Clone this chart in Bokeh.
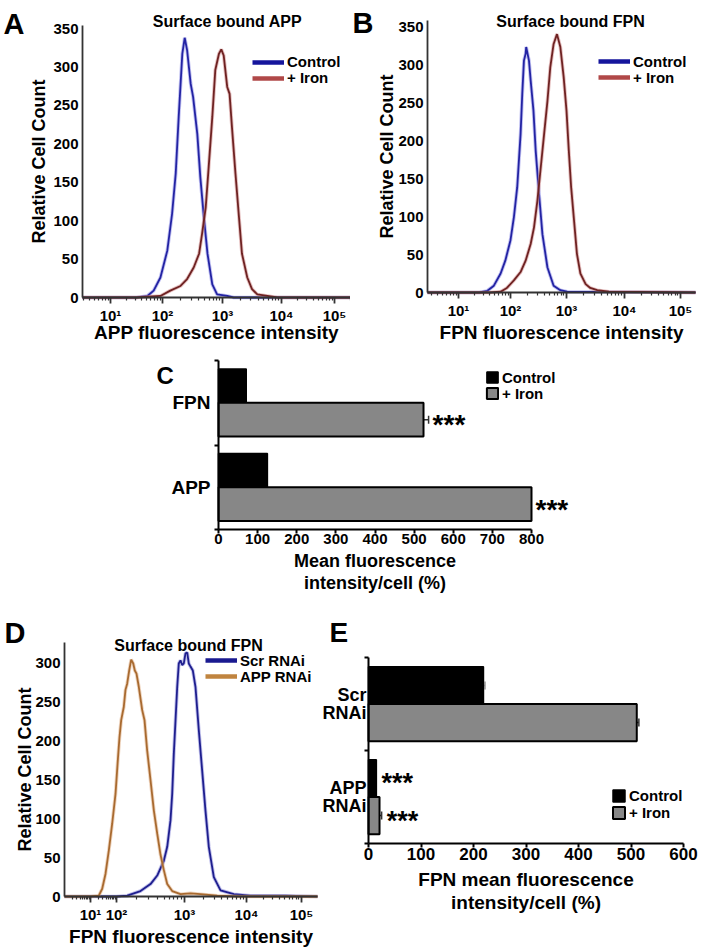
import numpy as np
from bokeh.plotting import figure
from bokeh.layouts import column, row
from bokeh.models import (Range1d, FixedTicker, Legend, LegendItem, Label,
                          Whisker, ColumnDataSource, TeeHead, CDSView, IndexFilter)
from bokeh.embed import file_html
from bokeh.resources import INLINE

FONT = "Liberation Sans"

# ---------------- data ----------------
DECADES = [1, 2, 3, 4, 5]
DECADE_LABELS = ["10\u00b9", "10\u00b2", "10\u00b3", "10\u2074", "10\u2075"]
HIST_Y_TICKS_AB = [0, 50, 100, 150, 200, 250, 300, 350]
HIST_Y_TICKS_D = [0, 50, 100, 150, 200, 250, 300]

# Panel A: surface bound APP (x = log10 fluorescence, y = relative cell count)
a_ctrl_x = [0.3, 1.0, 1.5, 1.71, 1.83, 1.96, 2.08, 2.16, 2.22, 2.27, 2.33, 2.37, 2.41,
            2.47, 2.51, 2.58, 2.63, 2.69, 2.75, 2.83, 2.91, 3.08, 3.19, 4.0, 5.5]
a_ctrl_y = [0, 0, 0, 2, 9, 26, 61, 109, 161, 235, 317, 338, 322,
            278, 261, 213, 157, 104, 57, 17, 4, 2, 0, 0, 0]
a_iron_x = [0.3, 1.5, 1.96, 2.13, 2.30, 2.41, 2.52, 2.61, 2.66, 2.72, 2.77, 2.83, 2.88,
            2.94, 2.98, 3.02, 3.08, 3.12, 3.16, 3.22, 3.28, 3.33, 3.42, 3.50, 3.59,
            3.76, 3.93, 5.5]
a_iron_y = [0, 0, 2, 9, 15, 24, 39, 57, 83, 117, 170, 235, 296,
            317, 323, 315, 274, 265, 222, 161, 104, 57, 26, 11, 4,
            2, 0, 0]

# Panel B: surface bound FPN
b_ctrl_x = [0.3, 1.4, 1.55, 1.68, 1.81, 1.90, 2.0, 2.06, 2.12, 2.18, 2.21, 2.24, 2.27,
            2.28, 2.33, 2.36, 2.41, 2.45, 2.51, 2.57, 2.66, 2.77, 2.89, 3.01, 5.5]
b_ctrl_y = [0, 0, 2, 9, 25, 42, 69, 99, 139, 209, 262, 306, 315,
            324, 306, 280, 240, 187, 130, 77, 33, 9, 3, 1, 0]
b_iron_x = [0.3, 1.6, 1.81, 1.93, 2.06, 2.18, 2.27, 2.36, 2.42, 2.48, 2.54, 2.60, 2.66,
            2.71, 2.77, 2.83, 2.89, 2.95, 3.0, 3.04, 3.08, 3.13, 3.18, 3.24, 3.33,
            3.41, 3.53, 3.73, 5.5]
b_iron_y = [0, 0, 1, 6, 16, 27, 42, 64, 86, 121, 165, 209, 253,
            297, 328, 341, 324, 284, 240, 187, 139, 95, 51, 25, 11,
            6, 3, 1, 0]

# Panel D: surface bound FPN, Scr RNAi vs APP RNAi
d_scr_x = [-0.2, 1.5, 2.0, 2.157, 2.353, 2.50, 2.599, 2.696, 2.746, 2.794, 2.819, 2.843,
           2.868, 2.893, 2.916, 2.941, 2.966, 2.99, 3.016, 3.044, 3.069, 3.097, 3.134,
           3.177, 3.231, 3.285, 3.339, 3.392, 3.473, 3.581, 3.795, 4.07, 4.7, 5.5]
d_scr_y = [0, 0, 0, 1, 7, 16, 27, 46, 64, 98, 132, 184,
           227, 270, 300, 304, 298, 300, 313, 314, 300, 296, 291,
           270, 214, 162, 110, 64, 25, 8, 3, 1, 1, 0]
d_app_x = [-0.2, 1.0, 1.319, 1.45, 1.577, 1.704, 1.835, 1.962, 2.019, 2.044, 2.069, 2.107,
           2.132, 2.157, 2.187, 2.216, 2.246, 2.269, 2.294, 2.328, 2.378, 2.412, 2.451,
           2.50, 2.549, 2.599, 2.647, 2.696, 2.746, 2.819, 2.941, 3.097, 3.258, 3.527,
           3.903, 5.5]
d_app_y = [0, 0, 1, 10, 29, 59, 94, 132, 175, 205, 227, 244,
           266, 274, 291, 305, 300, 291, 287, 270, 240, 227, 188,
           150, 111, 81, 54, 34, 16, 7, 3, 4, 3, 1,
           0, 0]

# Panel C: mean fluorescence intensity / cell (%)
c_cats = ["APP", "FPN"]
c_control = [125, 71]
c_control_err = [0, 0]
c_iron = [800, 524]
c_iron_err = [0, 13]
c_stars_iron = ["***", "***"]
c_stars_ctrl = ["", ""]
C_X_TICKS = [0, 100, 200, 300, 400, 500, 600, 700, 800]

# Panel E: FPN mean fluorescence intensity / cell (%)
e_cats = ["APP\nRNAi", "Scr\nRNAi"]
e_control = [15, 219]
e_control_err = [0, 3]
e_iron = [21, 511]
e_iron_err = [4, 4]
e_stars_iron = ["***", ""]
e_stars_ctrl = ["***", ""]
E_X_TICKS = [0, 100, 200, 300, 400, 500, 600]


# ---------------- helpers ----------------
def disp(logs, pos):
    """map log10 intensity onto the (bi-exponential looking) display axis"""
    logs = np.asarray(logs, dtype=float)
    pos = np.asarray(pos, dtype=float)
    out = np.interp(logs, DECADES, pos)
    lo = logs < DECADES[0]
    hi = logs > DECADES[-1]
    out[lo] = pos[0] + (logs[lo] - DECADES[0]) * (pos[1] - pos[0])
    out[hi] = pos[-1] + (logs[hi] - DECADES[-1]) * (pos[-1] - pos[-2])
    return out


def canvas_text(p, x, y, text, size, align="left"):
    p.add_layout(Label(x=x, y=y, x_units="canvas", y_units="canvas", text=text,
                       text_font=FONT, text_font_style="bold",
                       text_font_size=f"{size}px", text_color="black",
                       text_align=align, text_baseline="alphabetic"))


def framed_fig(W, H, box, xlim, ylim):
    """figure whose frame fills the canvas; the axes sit at box (left, right, top, bottom)"""
    left, right, top, bottom = box
    x0, x1 = xlim
    y0, y1 = ylim
    sx = (right - left) / (x1 - x0)
    sy = (bottom - top) / (y1 - y0)
    xr = Range1d(x0 - left / sx, x1 + (W - right) / sx)
    yr = Range1d(y0 - (H - bottom) / sy, y1 + top / sy)
    p = figure(width=W, height=H, x_range=xr, y_range=yr,
               output_backend="svg", toolbar_location=None,
               min_border=0, min_border_left=0, min_border_right=0,
               min_border_top=0, min_border_bottom=0, margin=0)
    p.outline_line_color = None
    p.xgrid.visible = False
    p.ygrid.visible = False
    p.background_fill_color = "white"
    p.border_fill_color = "white"
    p.xaxis.fixed_location = y0
    p.xaxis.bounds = (x0, x1)
    p.yaxis.fixed_location = x0
    p.yaxis.bounds = (y0, y1)
    return p


def style_axis(ax, label_size, title_size, color="#333333", lw=1.8):
    ax.axis_line_color = color
    ax.axis_line_width = lw
    ax.major_tick_line_color = color
    ax.major_tick_line_width = lw
    ax.minor_tick_line_color = color
    ax.minor_tick_line_width = 1.2
    ax.major_label_text_font = FONT
    ax.major_label_text_font_style = "bold"
    ax.major_label_text_font_size = f"{label_size}px"
    ax.major_label_text_color = "black"
    ax.axis_label_text_font = FONT
    ax.axis_label_text_font_style = "bold"
    ax.axis_label_text_font_size = f"{title_size}px"
    ax.axis_label_text_color = "black"


def add_key(p, H, renderer, label, x, cy, gw, gh):
    leg = Legend(items=[LegendItem(label=label, renderers=[renderer])],
                 location=(x, H - cy - 8.5), glyph_width=gw, glyph_height=gh,
                 label_height=16, label_standoff=3, spacing=0, padding=0, margin=0,
                 border_line_color=None, background_fill_alpha=0,
                 label_text_font=FONT, label_text_font_style="bold",
                 label_text_font_size="15px", label_text_color="black")
    p.add_layout(leg)


def hist_fig(W, H, box, y_top, y_ticks, dec_pos, x_label, xlab_standoff, ylab_standoff,
             series, key_x, key_y, letter, letter_xy, title, title_xy):
    axis_w = box[1] - box[0]
    p = framed_fig(W, H, box, (0, axis_w), (0, y_top))
    minor = []
    for d in range(0, 6):
        for k in range(2, 10):
            v = float(disp([d + np.log10(k)], dec_pos)[0])
            if 0 < v < axis_w:
                minor.append(v)
    p.xaxis.ticker = FixedTicker(ticks=list(dec_pos), minor_ticks=minor)
    p.xaxis.major_label_overrides = {int(v): lab for v, lab in zip(dec_pos, DECADE_LABELS)}
    p.yaxis.ticker = FixedTicker(ticks=y_ticks)
    style_axis(p.xaxis[0], 15, 19)
    style_axis(p.yaxis[0], 15, 18)
    p.xaxis.major_tick_out = 6
    p.xaxis.major_tick_in = 0
    p.xaxis.minor_tick_out = 3
    p.xaxis.minor_tick_in = 0
    p.xaxis.major_label_standoff = 3
    p.xaxis.axis_label = x_label
    p.xaxis.axis_label_standoff = xlab_standoff
    p.yaxis.major_tick_out = 0
    p.yaxis.major_tick_in = 0
    p.yaxis.minor_tick_line_color = None
    p.yaxis.major_label_standoff = 4
    p.yaxis.axis_label = "Relative Cell Count"
    p.yaxis.axis_label_standoff = ylab_standoff

    for (lx, ly, core, halo, key_col, name), cy in zip(series, key_y):
        xs = np.clip(disp(lx, dec_pos), 0, axis_w)
        src = ColumnDataSource(dict(x=xs, y=ly))
        p.line("x", "y", source=src, line_color=halo, line_width=3.6, line_alpha=0.55)
        p.line("x", "y", source=src, line_color=core, line_width=1.8)
        key = p.line("x", "y", source=src, view=CDSView(filter=IndexFilter([0])),
                     line_color=key_col, line_width=4.5)
        add_key(p, H, key, name, key_x, cy, 32, 16)
    canvas_text(p, letter_xy[0], letter_xy[1], letter, 29)
    canvas_text(p, title_xy[0], title_xy[1], title, 16, align="center")
    return p


def bar_fig(W, H, box, x_top, x_ticks, cats, ctrl, ctrl_err, iron, iron_err, stars_ctrl,
            stars_iron, star_size, star_dx, tick_size, tick_standoff, cat_size,
            cat_standoff, lab_size, lab_standoff, x_label, key_x, key_y, glyph_w,
            letter, letter_xy, letter_size):
    p = framed_fig(W, H, box, (0, x_top), (0, len(cats)))
    cat_pos = np.arange(len(cats)) + 0.5
    src = ColumnDataSource(dict(yc=cat_pos + 0.2, yi=cat_pos - 0.2, ctrl=ctrl, iron=iron))
    r_c = p.hbar(y="yc", right="ctrl", left=0, height=0.4, source=src,
                 fill_color="black", line_color="black", line_width=1.5)
    r_i = p.hbar(y="yi", right="iron", left=0, height=0.4, source=src,
                 fill_color="#878787", line_color="black", line_width=2)
    # error bars (only the part beyond the bar end is visible)
    for vals, errs, off, col in ((ctrl, ctrl_err, 0.2, "#a0a0a0"),
                                 (iron, iron_err, -0.2, "#333333")):
        keep = [i for i in range(len(cats)) if errs[i] > 0]
        if not keep:
            continue
        wsrc = ColumnDataSource(dict(base=[cat_pos[i] + off for i in keep],
                                     lo=[vals[i] for i in keep],
                                     hi=[vals[i] + errs[i] for i in keep]))
        p.add_layout(Whisker(source=wsrc, base="base", lower="lo", upper="hi",
                             dimension="width", line_color=col, line_width=1.5,
                             lower_head=None,
                             upper_head=TeeHead(size=8, line_color=col, line_width=1.5)))
    # significance stars
    for vals, errs, stars, off in ((ctrl, ctrl_err, stars_ctrl, 0.2),
                                   (iron, iron_err, stars_iron, -0.2)):
        for i, s in enumerate(stars):
            if s:
                p.add_layout(Label(x=vals[i] + errs[i], y=cat_pos[i] + off, text=s,
                                   x_offset=star_dx, y_offset=-5,
                                   text_font=FONT, text_font_style="bold",
                                   text_font_size=f"{star_size}px", text_baseline="middle",
                                   text_color="black"))
    p.xaxis.ticker = FixedTicker(ticks=x_ticks)
    style_axis(p.xaxis[0], tick_size, lab_size, color="black", lw=2)
    style_axis(p.yaxis[0], cat_size, lab_size, color="black", lw=2)
    p.xaxis.major_tick_out = 4
    p.xaxis.major_tick_in = 0
    p.xaxis.major_label_standoff = tick_standoff
    p.xaxis.axis_label = x_label
    p.xaxis.axis_label_standoff = lab_standoff
    p.xaxis.axis_label_text_line_height = 1.1
    p.yaxis.ticker = FixedTicker(ticks=list(cat_pos), minor_ticks=list(range(len(cats) + 1)))
    p.yaxis.major_label_overrides = {float(v): c for v, c in zip(cat_pos, cats)}
    p.yaxis.major_label_text_line_height = 0.92
    p.yaxis.major_tick_out = 0
    p.yaxis.major_tick_in = 0
    p.yaxis.major_tick_line_color = None
    p.yaxis.minor_tick_out = 4
    p.yaxis.minor_tick_in = 0
    p.yaxis.minor_tick_line_width = 2
    p.yaxis.major_label_standoff = cat_standoff
    add_key(p, H, r_c, "Control", key_x, key_y[0], glyph_w, glyph_w)
    add_key(p, H, r_i, "+ Iron", key_x, key_y[1], glyph_w, glyph_w)
    canvas_text(p, letter_xy[0], letter_xy[1], letter, letter_size)
    return p


# ---------------- panels ----------------
pA = hist_fig(350, 354, (82, 350, 25, 297), 354, HIST_Y_TICKS_AB, [28, 80, 140, 199, 252],
              "APP fluorescence intensity", -5, 1,
              [(a_ctrl_x, a_ctrl_y, "#2323a3", "#8c8ce6", "#15159c", "Control"),
               (a_iron_x, a_iron_y, "#6e2222", "#d08c8c", "#b04848", "+ Iron")],
              252, (61.5, 77.5), "A", (3, 23), "Surface bound APP", (227, 21))

pB = hist_fig(351, 354, (77, 345, 20, 292), 359, HIST_Y_TICKS_AB, [31, 83, 139, 197, 253],
              "FPN fluorescence intensity", 0, -2,
              [(b_ctrl_x, b_ctrl_y, "#2323a3", "#8c8ce6", "#15159c", "Control"),
               (b_iron_x, b_iron_y, "#6e2222", "#d08c8c", "#b04848", "+ Iron")],
              248, (61, 77), "B", (2, 22), "Surface bound FPN", (220, 21))

pC = bar_fig(701, 256, (218, 531, 6, 175), 800, C_X_TICKS, c_cats, c_control, c_control_err,
             c_iron, c_iron_err, c_stars_ctrl, c_stars_iron, 28, 4, 15, 0, 19, 4, 18, 4,
             "Mean fluorescence\nintensity/cell (%)", 485, (23, 39), 14, "C", (156, 21), 24)

pD = hist_fig(318, 342, (64, 317, 32, 286), 327, HIST_Y_TICKS_D, [26, 52, 120, 182, 237],
              "FPN fluorescence intensity", 0, -3,
              [(d_scr_x, d_scr_y, "#1e1e8e", "#8a8ad8", "#1a1a90", "Scr RNAi"),
               (d_app_x, d_app_y, "#a86a30", "#e0b088", "#c0843f", "APP RNAi")],
              205, (50, 66), "D", (4, 22), "Surface bound FPN", (188, 35))

pE = bar_fig(383, 342, (50, 365, 47, 233), 600, E_X_TICKS, e_cats, e_control, e_control_err,
             e_iron, e_iron_err, e_stars_ctrl, e_stars_iron, 27, 5, 17, 0, 18, -2, 19, 6,
             "FPN mean fluorescence\nintensity/cell (%)", 293, (185, 202), 15, "E", (11, 22), 28)

layout = column(row(pA, pB), pC, row(pD, pE))

open("out.html", "w").write(file_html(layout, INLINE))
